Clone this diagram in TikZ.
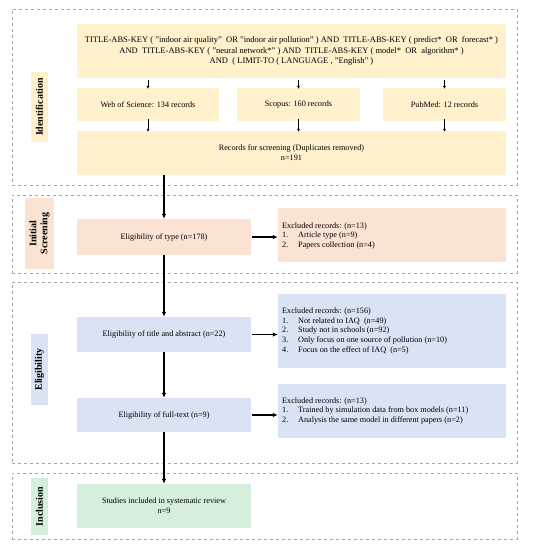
\documentclass[tikz,border=0pt]{standalone}
\usepackage{fontspec}
\setmainfont{Liberation Serif}
\usetikzlibrary{arrows.meta}
\definecolor{cyel}{RGB}{255,241,204}
\definecolor{cpink}{RGB}{251,227,212}
\definecolor{cblue}{RGB}{218,227,243}
\definecolor{cgreen}{RGB}{214,239,221}
\tikzset{
  panel/.style={draw=gray!70, dashed, line width=0.6pt, minimum width=505pt, inner sep=0pt},
  box/.style={inner sep=0pt, align=center, font=\fontsize{8.2}{10}\selectfont},
  exbox/.style={inner sep=0pt, minimum width=228pt},
  extext/.style={inner sep=0pt, align=left, anchor=west, font=\fontsize{8.2}{9.8}\selectfont},
  lab/.style={rotate=90, inner sep=0pt, align=center, font=\fontsize{10}{11}\selectfont\bfseries},
  arr/.style={-{Latex[length=5pt,width=4.5pt]}, line width=1.3pt},
  sarr/.style={-{Latex[length=3pt,width=3pt]}, line width=0.9pt},
}
\newcommand{\itm}[2]{\makebox[16pt][l]{#1}#2}
\begin{document}
\begin{tikzpicture}[x=1pt,y=-1pt]
\useasboundingbox (0,0) rectangle (543,550);
% panels
\node[panel, minimum height=176pt] (p1) at (264.5,97) {};
\node[panel, minimum height=78pt] (p2) at (264.5,234) {};
\node[panel, minimum height=181pt] (p3) at (264.5,372.5) {};
\node[panel, minimum height=66pt] (p4) at (264.5,506) {};
% labels
\node[lab, fill=cyel, minimum width=70pt, minimum height=17pt] (l1) at (39.5,107) {Identification};
\node[lab, fill=cpink, minimum width=71pt, minimum height=29pt] (l2) at (39.5,233.5) {Initial\\Screening};
\node[lab, fill=cblue, minimum width=71pt, minimum height=17pt] (l3) at (39.5,369.5) {Eligibility};
\node[lab, fill=cgreen, minimum width=57pt, minimum height=17pt] (l4) at (39.5,506.5) {Inclusion};
% identification
\node[box, fill=cyel, minimum width=429pt, minimum height=54pt, font=\fontsize{8.5}{10.3}\selectfont] (q) at (291.5,51)
 {TITLE-ABS-KEY ( "indoor air quality" \ OR "indoor air pollution" ) AND \ TITLE-ABS-KEY ( predict* \ OR \ forecast* )\\
  AND \ TITLE-ABS-KEY ( "neural network*" ) AND \ TITLE-ABS-KEY ( model* \ OR \ algorithm* )\\
  AND \ ( LIMIT-TO ( LANGUAGE , "English" )};
\node[box, fill=cyel, minimum width=142pt, minimum height=33pt] (wos) at (148,104.5) {Web of Science: 134 records};
\node[box, fill=cyel, minimum width=123pt, minimum height=33pt] (sco) at (298.5,104.5) {Scopus: 160 records};
\node[box, fill=cyel, minimum width=123pt, minimum height=33pt] (pub) at (444.5,104.5) {PubMed: 12 records};
\node[box, fill=cyel, minimum width=429pt, minimum height=44pt] (rec) at (291.5,153) {Records for screening (Duplicates removed)\\n=191};
% screening
\node[box, fill=cpink, minimum width=174pt, minimum height=36pt] (typ) at (164,237) {Eligibility of type (n=178)};
\node[exbox, fill=cpink, minimum height=54pt] (ex1) at (392,235) {};
\node[extext] (ex1t) at (282,236) {Excluded records: (n=13)\\\itm{1.}{Article type (n=9)}\\\itm{2.}{Papers collection (n=4)}};
% eligibility
\node[box, fill=cblue, minimum width=174pt, minimum height=35pt] (tit) at (164,334.5) {Eligibility of title and abstract (n=22)};
\node[exbox, fill=cblue, minimum height=74pt] (ex2) at (392,331) {};
\node[extext] (ex2t) at (282,331) {Excluded records: (n=156)\\\itm{1.}{Not related to IAQ \ (n=49)}\\\itm{2.}{Study not in schools (n=92)}\\\itm{3.}{Only focus on one source of pollution (n=10)}\\\itm{4.}{Focus on the effect of IAQ \ (n=5)}};
\node[box, fill=cblue, minimum width=174pt, minimum height=34pt] (ful) at (164,415) {Eligibility of full-text (n=9)};
\node[exbox, fill=cblue, minimum height=54pt] (ex3) at (392,411) {};
\node[extext] (ex3t) at (282,411) {Excluded records: (n=13)\\\itm{1.}{Trained by simulation data from box models (n=11)}\\\itm{2.}{Analysis the same model in different papers (n=2)}};
% inclusion
\node[box, fill=cgreen, minimum width=174pt, minimum height=44pt] (inc) at (164,506) {Studies included in systematic review\\n=9};
% arrows
\draw[sarr] (wos.north |- q.south) ++(0,2) -- ([yshift=-1pt]wos.north);
\draw[sarr] (sco.north |- q.south) ++(0,2) -- ([yshift=-1pt]sco.north);
\draw[sarr] (pub.north |- q.south) ++(0,2) -- ([yshift=-1pt]pub.north);
\draw[sarr] ([yshift=2pt]wos.south) -- ([yshift=-1pt]wos.south |- rec.north);
\draw[sarr] ([yshift=2pt]sco.south) -- ([yshift=-1pt]sco.south |- rec.north);
\draw[sarr] ([yshift=2pt]pub.south) -- ([yshift=-1pt]pub.south |- rec.north);
\draw[arr] (typ.north |- rec.south) -- (typ.north);
\draw[arr] (typ.south) -- (tit.north);
\draw[arr] (tit.south) -- (ful.north);
\draw[arr] (ful.south) -- (inc.north);
\draw[arr] ([xshift=1pt]typ.east) -- (typ.east -| ex1.west);
\draw[arr] ([xshift=1pt]tit.east) -- (tit.east -| ex2.west);
\draw[arr] ([xshift=1pt]ful.east) -- (ful.east -| ex3.west);
\end{tikzpicture}
\end{document}
